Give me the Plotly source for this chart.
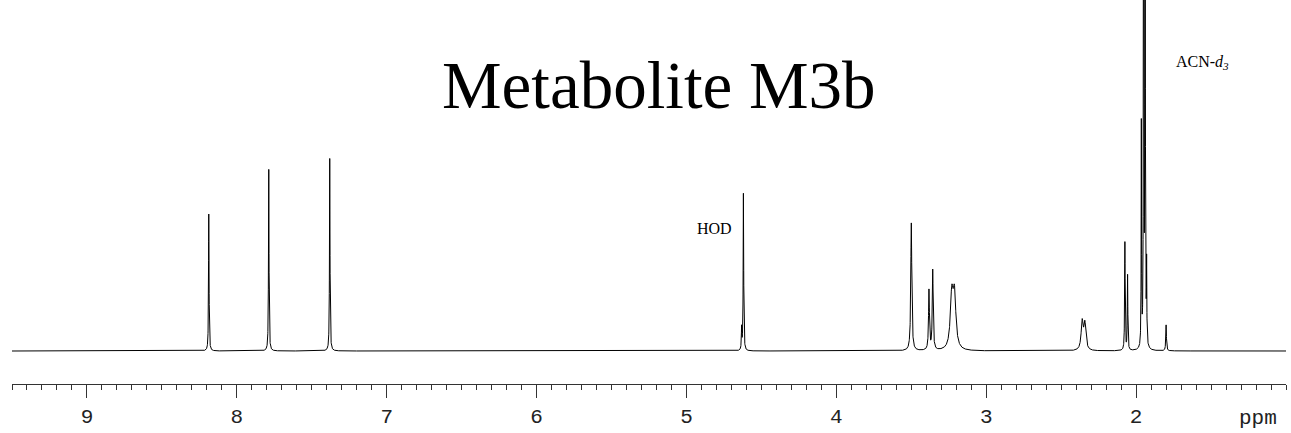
import numpy as np
import plotly.graph_objects as go

# Peak list (ppm, intensity in plot units, FWHM in ppm)
peak_ppm = [8.187, 7.787, 7.380, 4.632, 4.620, 3.500, 3.382, 3.357, 3.230, 3.212,
            2.360, 2.342, 2.075, 2.057, 1.965, 1.950, 1.940, 1.930, 1.800]
peak_height = [138, 183, 193, 22, 158, 128, 60, 80, 52, 52,
               28, 26, 109, 75, 226, 700, 700, 78, 26]
peak_fwhm = [0.004, 0.004, 0.004, 0.004, 0.004, 0.008, 0.007, 0.007, 0.022, 0.022,
             0.016, 0.016, 0.004, 0.004, 0.003, 0.003, 0.003, 0.003, 0.005]

major_ticks = [9, 8, 7, 6, 5, 4, 3, 2]
major_labels = ["9", "8", "7", "6", "5", "4", "3", "2"]

x_left, x_right = 9.5, 1.0

ppm = np.linspace(x_left, x_right, 20001)
spec = np.zeros_like(ppm)
for c, h, w in zip(peak_ppm, peak_height, peak_fwhm):
    g = w / 2
    spec += h * g**2 / ((ppm - c) ** 2 + g**2)

mono = "Liberation Mono, Courier New, monospace"
serif = "Liberation Serif, Times New Roman, serif"

fig = go.Figure()
fig.add_trace(go.Scatter(x=ppm, y=spec, mode="lines",
                         line=dict(color="black", width=1), hoverinfo="skip"))

fig.update_layout(
    width=1291, height=433,
    margin=dict(l=12, r=5, t=0, b=49),
    paper_bgcolor="white", plot_bgcolor="white",
    showlegend=False,
    xaxis=dict(
        range=[x_left, x_right], showgrid=False, zeroline=False,
        showline=True, linecolor="#333", linewidth=1,
        tickmode="array", tickvals=major_ticks, ticktext=major_labels,
        ticks="outside", ticklen=13, tickwidth=1, tickcolor="#333",
        tickfont=dict(family=mono, size=21, color="#222"),
        minor=dict(dtick=0.1, tick0=0, ticks="outside", ticklen=5, tickwidth=1, tickcolor="#333"),
    ),
    yaxis=dict(range=[-33, 351], visible=False, showgrid=False, zeroline=False),
    annotations=[
        dict(text="Metabolite M3b", x=0.508, y=0.779, xref="paper", yref="paper",
             yanchor="middle", showarrow=False,
             font=dict(family=serif, size=67, color="black")),
        dict(text="HOD", x=4.815, y=123, xref="x", yref="y", showarrow=False,
             font=dict(family=serif, size=16, color="black")),
        dict(text="ACN-<i>d</i><sub><i>3</i></sub>", x=1.555, y=289, xref="x", yref="y", showarrow=False,
             font=dict(family=serif, size=16, color="black")),
        dict(text="ppm", x=1.19, y=-0.09, xref="x", yref="paper", yanchor="middle", showarrow=False,
             font=dict(family=mono, size=21, color="#222")),
    ],
)

fig.write_html("out.html")
